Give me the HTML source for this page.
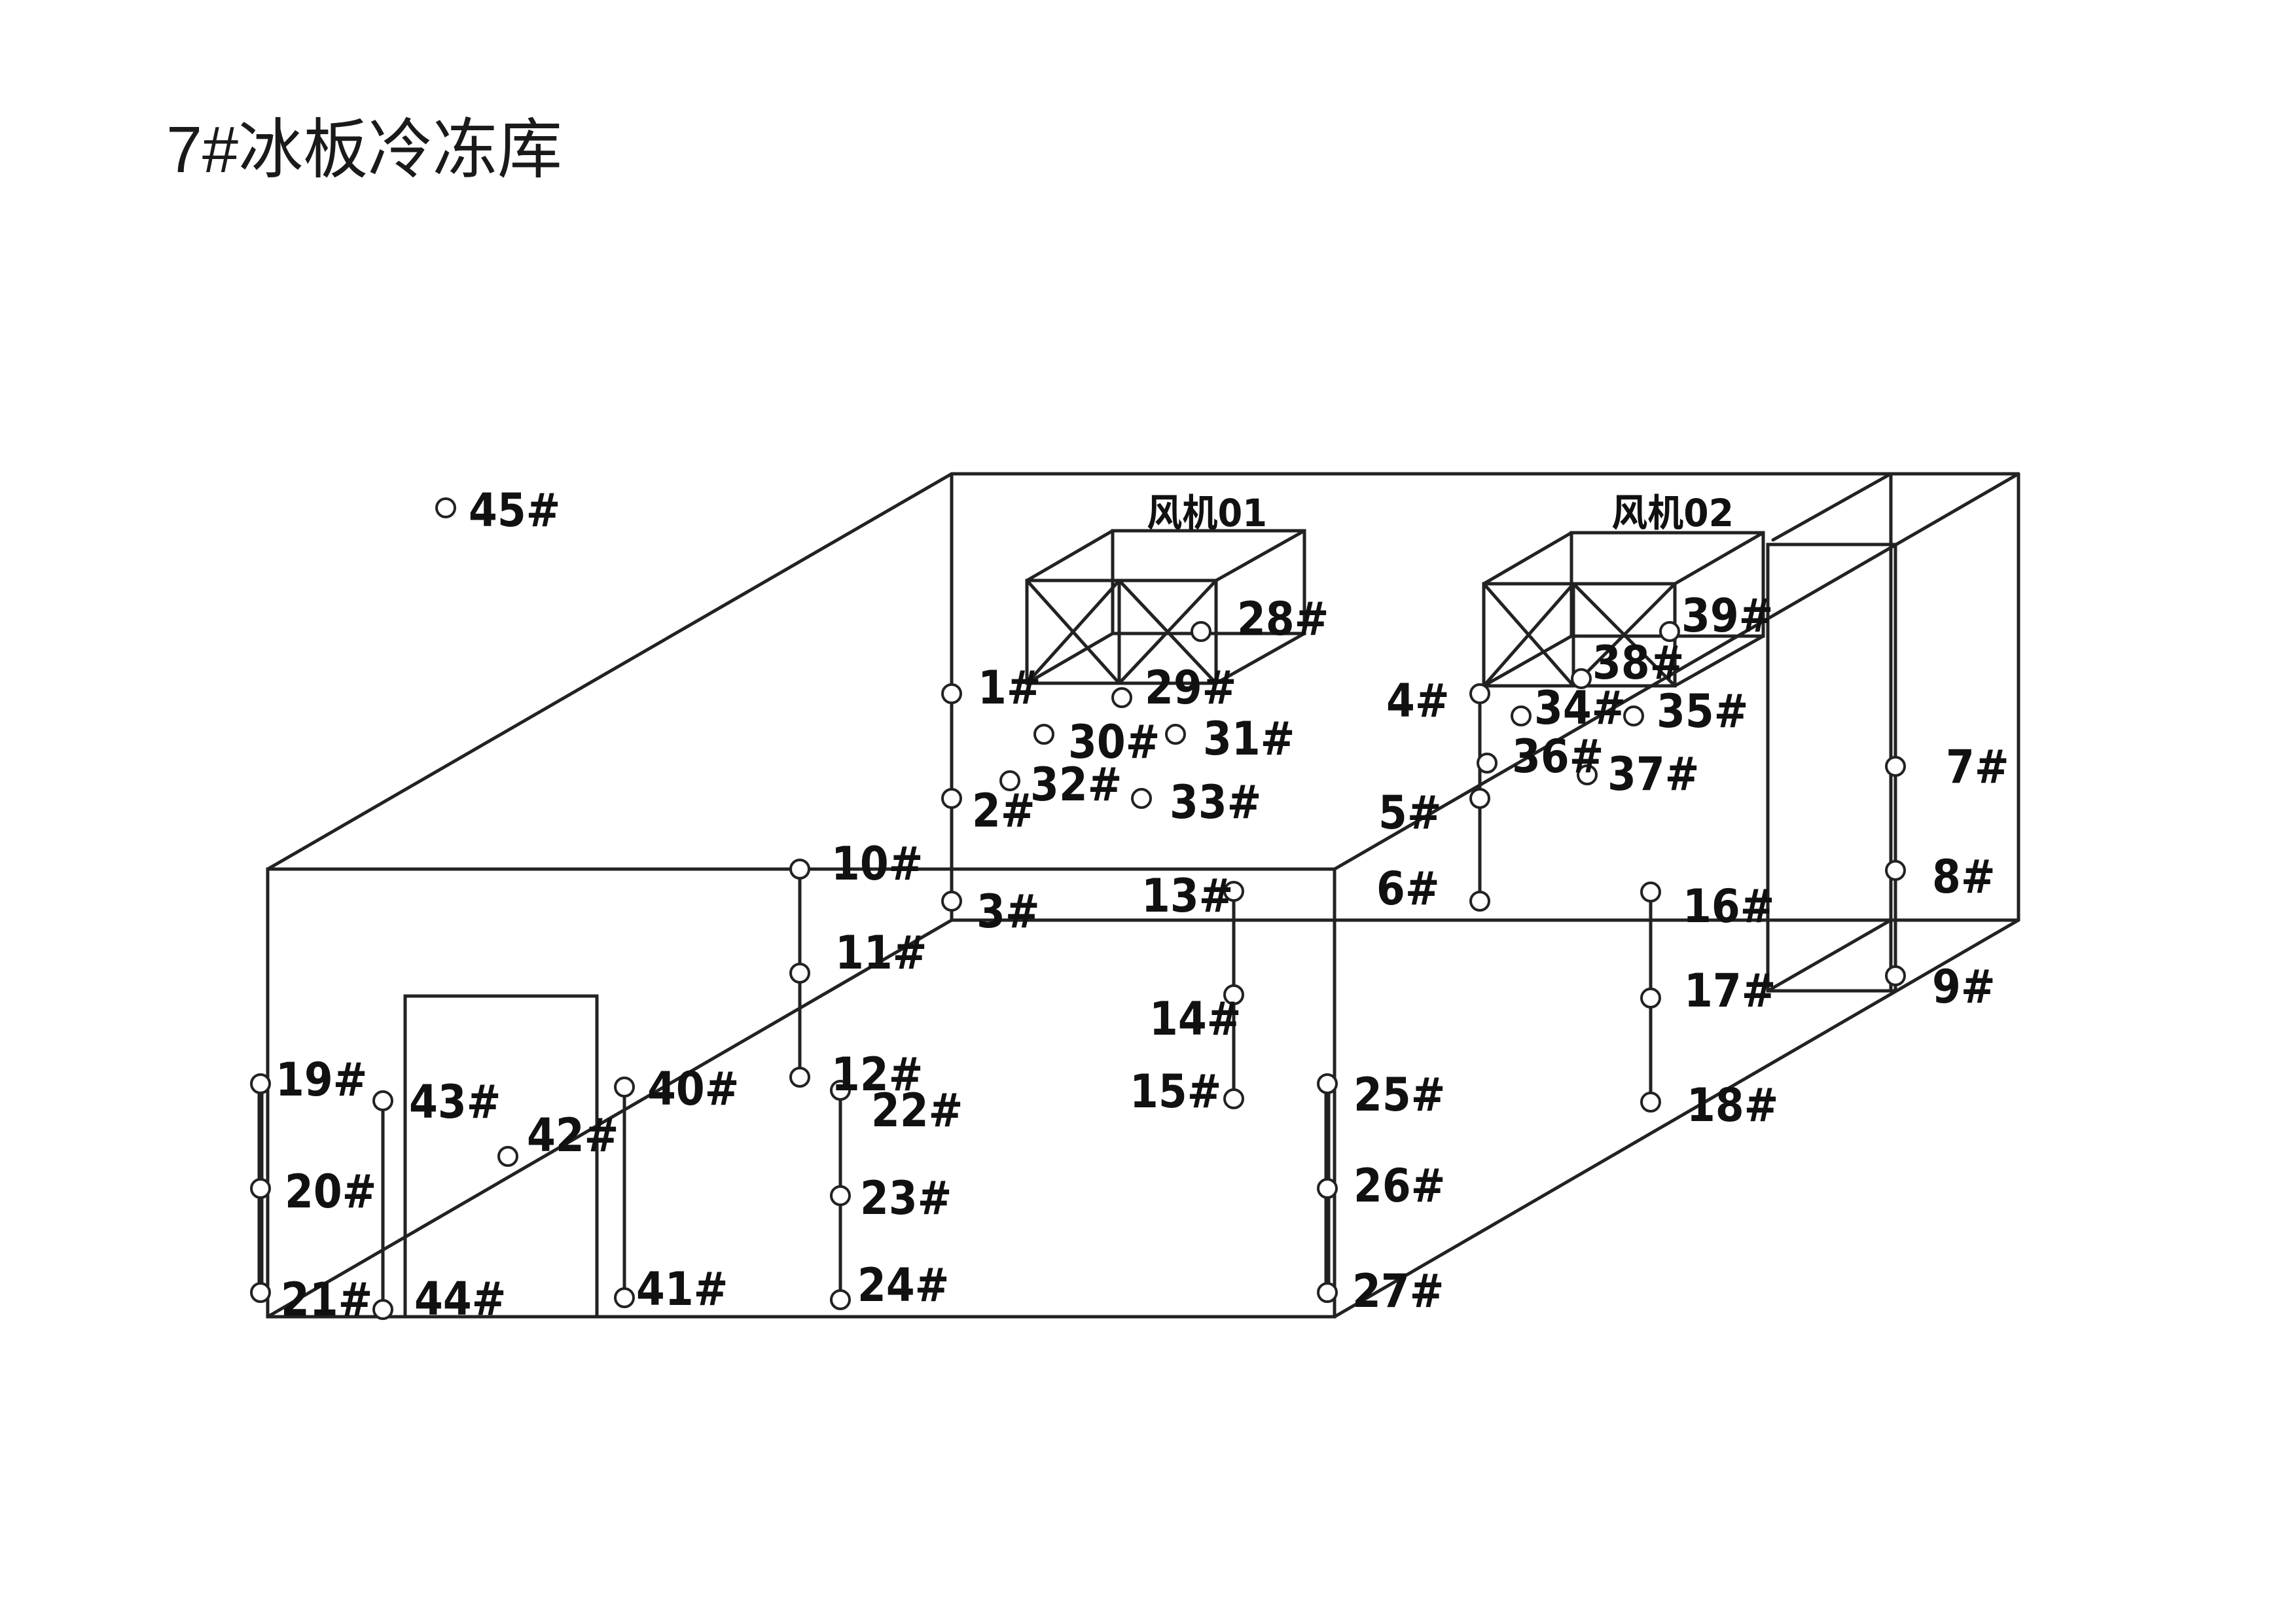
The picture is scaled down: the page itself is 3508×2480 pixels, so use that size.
<!DOCTYPE html>
<html><head><meta charset="utf-8"><style>
html,body{margin:0;padding:0;background:#fff;}
svg{display:block;}
.l{font-family:"DejaVu Sans Condensed","Liberation Sans Narrow","DejaVu Sans",sans-serif;font-weight:bold;font-stretch:condensed;font-size:70px;fill:#111;}
</style></head><body>
<svg width="3508" height="2480" viewBox="0 0 3508 2480" xmlns="http://www.w3.org/2000/svg">
<rect width="3508" height="2480" fill="#fff"/>
<text x="254" y="263" font-family="Liberation Sans, Noto Sans CJK SC, sans-serif" font-size="100" fill="#1a1a1a" textLength="605" lengthAdjust="spacingAndGlyphs">7#冰板冷冻库</text>
<g stroke="#222" stroke-width="5" fill="none" stroke-linecap="round">
<rect x="409" y="1328" width="1630" height="684"/>
<line x1="409" y1="1328" x2="1454" y2="724"/>
<line x1="1454" y1="724" x2="3084" y2="724"/>
<line x1="1454" y1="724" x2="1454" y2="1406"/>
<line x1="1454" y1="1406" x2="3084" y2="1406"/>
<line x1="3084" y1="724" x2="3084" y2="1406"/>
<line x1="1454" y1="1406" x2="409" y2="2012"/>
<line x1="2039" y1="1328" x2="3084" y2="724"/>
<line x1="2039" y1="2012" x2="3084" y2="1406"/>
<rect x="2701" y="832" width="195" height="682"/>
<line x1="2889" y1="724" x2="2889" y2="1514"/>
<line x1="2709" y1="825" x2="2889" y2="724"/>
<line x1="2701" y1="1514" x2="2889" y2="1406"/>
<rect x="619" y="1522" width="293" height="490"/>
<rect x="1569" y="887" width="289" height="157"/>
<rect x="1700" y="811" width="293" height="157"/>
<line x1="1569" y1="887" x2="1700" y2="811"/><line x1="1858" y1="887" x2="1993" y2="811"/>
<line x1="1858" y1="1044" x2="1993" y2="968"/><line x1="1569" y1="1044" x2="1700" y2="968"/>
<line x1="1710" y1="887" x2="1710" y2="1044"/>
<line x1="1569" y1="887" x2="1710" y2="1044"/><line x1="1710" y1="887" x2="1569" y2="1044"/>
<line x1="1710" y1="887" x2="1858" y2="1044"/><line x1="1858" y1="887" x2="1710" y2="1044"/>
<rect x="2267" y="892" width="292" height="156"/>
<rect x="2401" y="814" width="293" height="158"/>
<line x1="2267" y1="892" x2="2401" y2="814"/><line x1="2559" y1="892" x2="2694" y2="814"/>
<line x1="2559" y1="1048" x2="2694" y2="972"/><line x1="2267" y1="1048" x2="2401" y2="972"/>
<line x1="2404" y1="892" x2="2404" y2="1048"/>
<line x1="2267" y1="892" x2="2404" y2="1048"/><line x1="2404" y1="892" x2="2267" y2="1048"/>
<line x1="2404" y1="892" x2="2559" y2="1048"/><line x1="2559" y1="892" x2="2404" y2="1048"/>
<line x1="398" y1="1656" x2="398" y2="1975" stroke-width="9"/>
<line x1="585" y1="1682" x2="585" y2="2001"/>
<line x1="954" y1="1661" x2="954" y2="1983"/>
<line x1="1222" y1="1328" x2="1222" y2="1646"/>
<line x1="1284" y1="1666" x2="1284" y2="1986"/>
<line x1="1885" y1="1362" x2="1885" y2="1679"/>
<line x1="2028" y1="1656" x2="2028" y2="1975" stroke-width="9"/>
<line x1="2261" y1="1060" x2="2261" y2="1377"/>
<line x1="2522" y1="1363" x2="2522" y2="1684"/>
</g>
<g stroke="#222" stroke-width="4" fill="#fff">
<circle cx="681" cy="776" r="14"/>
<circle cx="1454" cy="1060" r="14"/>
<circle cx="1714" cy="1066" r="14"/>
<circle cx="1835" cy="965" r="14"/>
<circle cx="1595" cy="1122" r="14"/>
<circle cx="1796" cy="1122" r="14"/>
<circle cx="1543" cy="1193" r="14"/>
<circle cx="1744" cy="1220" r="14"/>
<circle cx="1454" cy="1220" r="14"/>
<circle cx="1454" cy="1377" r="14"/>
<circle cx="1222" cy="1328" r="14"/>
<circle cx="1222" cy="1487" r="14"/>
<circle cx="1222" cy="1646" r="14"/>
<circle cx="1885" cy="1362" r="14"/>
<circle cx="1885" cy="1520" r="14"/>
<circle cx="1885" cy="1679" r="14"/>
<circle cx="398" cy="1656" r="14"/>
<circle cx="398" cy="1816" r="14"/>
<circle cx="398" cy="1975" r="14"/>
<circle cx="585" cy="1682" r="14"/>
<circle cx="585" cy="2001" r="14"/>
<circle cx="776" cy="1767" r="14"/>
<circle cx="954" cy="1661" r="14"/>
<circle cx="954" cy="1983" r="14"/>
<circle cx="1284" cy="1666" r="14"/>
<circle cx="1284" cy="1827" r="14"/>
<circle cx="1284" cy="1986" r="14"/>
<circle cx="2028" cy="1656" r="14"/>
<circle cx="2028" cy="1816" r="14"/>
<circle cx="2028" cy="1975" r="14"/>
<circle cx="2261" cy="1060" r="14"/>
<circle cx="2261" cy="1220" r="14"/>
<circle cx="2261" cy="1377" r="14"/>
<circle cx="2272" cy="1166" r="14"/>
<circle cx="2324" cy="1094" r="14"/>
<circle cx="2496" cy="1094" r="14"/>
<circle cx="2425" cy="1184" r="14"/>
<circle cx="2416" cy="1037" r="14"/>
<circle cx="2551" cy="965" r="14"/>
<circle cx="2896" cy="1171" r="14"/>
<circle cx="2896" cy="1330" r="14"/>
<circle cx="2896" cy="1491" r="14"/>
<circle cx="2522" cy="1363" r="14"/>
<circle cx="2522" cy="1525" r="14"/>
<circle cx="2522" cy="1684" r="14"/>
</g>
<g class="l">
<text x="716" y="804">45#</text>
<text x="1494" y="1075">1#</text>
<text x="1749" y="1075">29#</text>
<text x="1890" y="970">28#</text>
<text x="1632" y="1158">30#</text>
<text x="1838" y="1153">31#</text>
<text x="1574" y="1223">32#</text>
<text x="1787" y="1250">33#</text>
<text x="1485" y="1263">2#</text>
<text x="1492" y="1417">3#</text>
<text x="1270" y="1344">10#</text>
<text x="1276" y="1480">11#</text>
<text x="1270" y="1666">12#</text>
<text x="1744" y="1393">13#</text>
<text x="1756" y="1581">14#</text>
<text x="1726" y="1692">15#</text>
<text x="421" y="1674">19#</text>
<text x="435" y="1845">20#</text>
<text x="429" y="2010">21#</text>
<text x="625" y="1708">43#</text>
<text x="633" y="2009">44#</text>
<text x="805" y="1759">42#</text>
<text x="989" y="1688">40#</text>
<text x="972" y="1994">41#</text>
<text x="1331" y="1721">22#</text>
<text x="1314" y="1855">23#</text>
<text x="1310" y="1988">24#</text>
<text x="2118" y="1095">4#</text>
<text x="2106" y="1266">5#</text>
<text x="2103" y="1382">6#</text>
<text x="2344" y="1106">34#</text>
<text x="2531" y="1111">35#</text>
<text x="2310" y="1180">36#</text>
<text x="2456" y="1207">37#</text>
<text x="2433" y="1037">38#</text>
<text x="2569" y="965">39#</text>
<text x="2973" y="1196">7#</text>
<text x="2952" y="1364">8#</text>
<text x="2952" y="1532">9#</text>
<text x="2571" y="1409">16#</text>
<text x="2573" y="1538">17#</text>
<text x="2577" y="1713">18#</text>
<text x="2068" y="1697">25#</text>
<text x="2068" y="1836">26#</text>
<text x="2066" y="1997">27#</text>
</g>
<g font-family="DejaVu Sans, Noto Sans CJK SC, sans-serif" font-weight="bold" font-size="58" fill="#111">
<text x="1752" y="804" textLength="184" lengthAdjust="spacingAndGlyphs">风机01</text>
<text x="2462" y="804" textLength="187" lengthAdjust="spacingAndGlyphs">风机02</text>
</g>
</svg>
</body></html>
